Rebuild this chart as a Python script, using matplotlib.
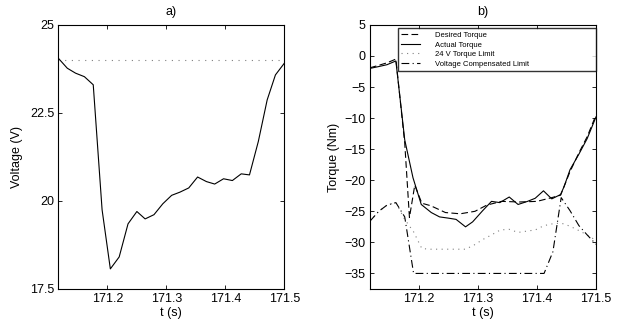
import matplotlib
matplotlib.use("Agg")
import matplotlib.pyplot as plt

plt.rcParams['font.family'] = ['Liberation Sans', 'DejaVu Sans']

# voltage (panel a)
t_v = [171.117, 171.132, 171.146, 171.161, 171.176, 171.191, 171.205, 171.220, 171.235,
       171.250, 171.264, 171.279, 171.294, 171.309, 171.323, 171.338, 171.353, 171.368,
       171.382, 171.397, 171.412, 171.427, 171.441, 171.456, 171.471, 171.485, 171.500]
voltage = [24.05, 23.77, 23.63, 23.53, 23.30, 19.75, 18.07, 18.41, 19.35, 19.70, 19.49,
           19.61, 19.92, 20.16, 20.25, 20.37, 20.68, 20.55, 20.48, 20.63, 20.58, 20.77,
           20.74, 21.69, 22.87, 23.58, 23.91]
v_nominal = 24

# torque (panel b)
t_des = [171.117, 171.132, 171.146, 171.161, 171.176, 171.184, 171.193, 171.205, 171.220,
         171.245, 171.270, 171.295, 171.315, 171.340, 171.370, 171.400, 171.425, 171.440,
         171.456, 171.471, 171.485, 171.500]
desired = [-1.9, -1.5, -1.1, -0.5, -14.0, -26.0, -20.8, -23.7, -24.1, -25.2, -25.4, -25.0,
           -24.0, -23.4, -23.5, -23.4, -22.8, -22.4, -18.6, -15.6, -13.0, -9.5]

t_act = [171.117, 171.132, 171.146, 171.161, 171.176, 171.190, 171.204, 171.221, 171.235,
         171.250, 171.263, 171.279, 171.291, 171.308, 171.323, 171.337, 171.353, 171.368,
         171.384, 171.397, 171.411, 171.425, 171.440, 171.446, 171.456, 171.471, 171.485,
         171.500]
actual = [-2.0, -1.7, -1.4, -0.8, -13.5, -19.6, -23.9, -25.2, -25.9, -26.1, -26.3, -27.5,
          -26.7, -24.9, -23.4, -23.6, -22.7, -23.9, -23.4, -22.9, -21.7, -23.0, -22.3,
          -21.0, -18.3, -15.8, -13.3, -9.8]

limit_24v = [-26.6, -25.0, -24.0, -23.6, -26.3, -28.3, -31.0, -31.1, -31.1, -31.1, -31.1,
             -31.1, -30.4, -29.5, -28.8, -28.0, -27.9, -28.4, -28.2, -28.0, -27.3, -27.0,
             -26.9, -27.4, -28.1, -28.8, -29.7]
limit_comp = [-26.6, -25.0, -24.0, -23.6, -25.9, -35.0, -35.0, -35.0, -35.0, -35.0, -35.0,
              -35.0, -35.0, -35.0, -35.0, -35.0, -35.0, -35.0, -35.0, -35.0, -35.0, -31.5,
              -22.8, -24.9, -27.3, -28.8, -30.3]

fig = plt.figure(figsize=(6.26, 3.28), dpi=100)
ax1 = fig.add_axes([0.0931, 0.119, 0.361, 0.805])
ax2 = fig.add_axes([0.5906, 0.119, 0.3615, 0.805])

lw = 0.8
ax1.plot(t_v, voltage, color='black', lw=lw)
ax1.axhline(v_nominal, color='gray', lw=0.8, linestyle=(0, (1, 5)))
ax1.set_xlim(171.1167, 171.5)
ax1.set_ylim(17.5, 25)
ax1.set_yticks([17.5, 20, 22.5, 25])
ax1.set_yticklabels(['17.5', '20', '22.5', '25'])
ax1.set_ylabel('Voltage (V)', fontsize=9, labelpad=5)
ax1.set_title('a)', fontsize=9, pad=7)

ax2.plot(t_des, desired, color='black', lw=lw, linestyle=(0, (6, 3)), label='Desired Torque')
ax2.plot(t_act, actual, color='black', lw=lw, label='Actual Torque')
ax2.plot(t_v, limit_24v, color='gray', lw=lw, linestyle=(0, (1, 4)), label='24 V Torque Limit')
ax2.plot(t_v, limit_comp, color='black', lw=lw, linestyle=(0, (7, 3, 1, 3)),
         label='Voltage Compensated Limit')
ax2.set_xlim(171.1167, 171.5)
ax2.set_ylim(-37.5, 5)
ax2.set_yticks([5, 0, -5, -10, -15, -20, -25, -30, -35])
ax2.set_ylabel('Torque (Nm)', fontsize=9, labelpad=3)
ax2.set_title('b)', fontsize=9, pad=7)
leg = ax2.legend(loc='upper left', bbox_to_anchor=(0.125, 0.818, 0.875, 0.17), mode='expand',
                 fontsize=5.5, frameon=True, fancybox=False, edgecolor='black',
                 handlelength=2.4, handletextpad=2.0, labelspacing=0.3, borderpad=0.45,
                 borderaxespad=0.0)
leg.get_frame().set_linewidth(1.0)

for ax in (ax1, ax2):
    ax.set_xticks([171.2, 171.3, 171.4, 171.5])
    ax.set_xticklabels(['171.2', '171.3', '171.4', '171.5'])
    ax.set_xlabel('t (s)', fontsize=9, labelpad=1)
    ax.tick_params(direction='in', top=True, right=True, length=3, width=0.6,
                   labelsize=9, pad=3)
    for s in ax.spines.values():
        s.set_linewidth(0.8)

fig.savefig('out.png', dpi=100)
